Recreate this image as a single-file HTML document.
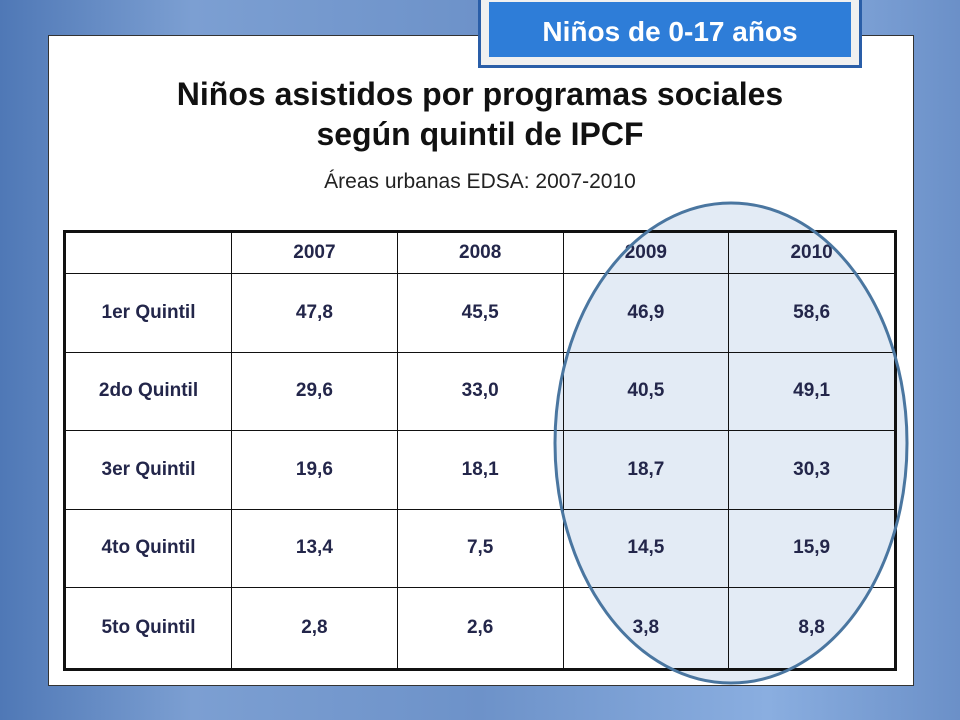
<!DOCTYPE html>
<html><head><meta charset="utf-8"><style>
body{margin:0;width:960px;height:720px;overflow:hidden;position:relative;font-family:"Liberation Sans",sans-serif;
background:linear-gradient(90deg,#4f78b6 0%,#7c9fd2 20%,#6d92c9 50%,#8aaee0 80%,#6b90c8 100%);}
.panel{position:absolute;left:48px;top:35px;width:864px;height:649px;background:#fff;border:1px solid #333;}
.tag{position:absolute;left:478px;top:-4px;width:384px;height:72px;background:#f0f0f0;border:3px solid #2a5ea8;box-sizing:border-box;}
.tag div{position:absolute;left:8px;top:3px;right:8px;bottom:8px;background:#2e7dd8;color:#fff;font-weight:bold;font-size:28px;text-align:center;line-height:60px;}
h1{position:absolute;left:48px;width:864px;top:74px;margin:0;text-align:center;font-size:32px;line-height:40px;color:#111;}
.sub{position:absolute;left:48px;width:864px;top:170px;text-align:center;font-size:21px;color:#222;}
table{position:absolute;left:63px;top:230px;width:834px;height:441px;border-collapse:collapse;border:3px solid #111;background:transparent;}
td{border:1px solid #111;width:167px;text-align:center;font-weight:bold;font-size:19px;color:#23264a;vertical-align:middle;padding:0 0 0 0;}
tr.h td{height:40px;}
svg{position:absolute;left:0;top:0}
</style></head><body>
<div class="panel"></div>
<svg width="960" height="720">
<ellipse cx="731" cy="443" rx="176" ry="240" fill="#e3ebf5"/>
</svg>
<h1>Niños asistidos por programas sociales<br>según quintil de IPCF</h1>
<div class="sub">Áreas urbanas EDSA: 2007-2010</div>
<table>
<tr class="h"><td></td><td>2007</td><td>2008</td><td>2009</td><td>2010</td></tr>
<tr><td>1er Quintil</td><td>47,8</td><td>45,5</td><td>46,9</td><td>58,6</td></tr>
<tr><td>2do Quintil</td><td>29,6</td><td>33,0</td><td>40,5</td><td>49,1</td></tr>
<tr><td>3er Quintil</td><td>19,6</td><td>18,1</td><td>18,7</td><td>30,3</td></tr>
<tr><td>4to Quintil</td><td>13,4</td><td>7,5</td><td>14,5</td><td>15,9</td></tr>
<tr><td>5to Quintil</td><td>2,8</td><td>2,6</td><td>3,8</td><td>8,8</td></tr>
</table>
<svg width="960" height="720">
<ellipse cx="731" cy="443" rx="176" ry="240" fill="none" stroke="#4a76a0" stroke-width="3"/>
</svg>
<div class="tag"><div>Niños de 0-17 años</div></div>
</body></html>
